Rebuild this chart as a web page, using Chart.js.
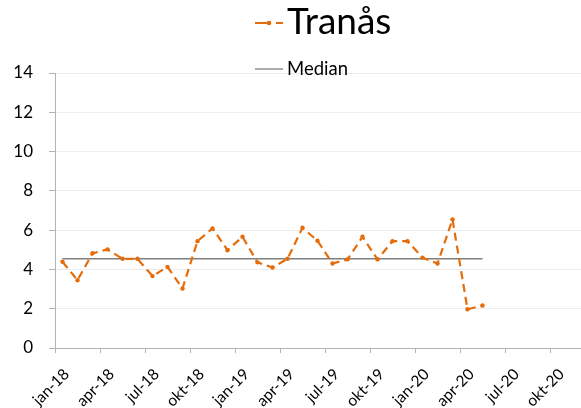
<!DOCTYPE html>
<html>
<head>
<meta charset="utf-8">
<script src="https://cdn.jsdelivr.net/npm/chart.js@4.4.1/dist/chart.umd.min.js"></script>
<style>
html, body { margin: 0; padding: 0; background: #fff; overflow: hidden; }
#wrap { width: 600px; height: 408px; }
</style>
</head>
<body>
<div id="wrap"><canvas id="tranasChart"></canvas></div>
<script>
// Chart data
const monthNames = ['jan', 'feb', 'mar', 'apr', 'maj', 'jun', 'jul', 'aug', 'sep', 'okt', 'nov', 'dec'];
const yearSuffixes = ['18', '19', '20'];
const tranasValues = [4.39, 3.45, 4.82, 5.02, 4.54, 4.54, 3.66, 4.13, 3.03, 5.44,
    6.09, 4.98, 5.66, 4.36, 4.10, 4.54, 6.12, 5.46, 4.30, 4.51,
    5.66, 4.51, 5.44, 5.44, 4.60, 4.30, 6.55, 1.97, 2.16];
const medianValue = 4.55;
const yTicks = [0, 2, 4, 6, 8, 10, 12, 14];

const mainColor = '#E46C0A';
const axisColor = '#b3b3b3';
const fontFamily = 'Lato, "Open Sans", sans-serif';

let months = [];
for (var i = 0; i < yearSuffixes.length; i++) {
    for (var j = 0; j < monthNames.length; j++) {
        months.push(monthNames[j] + '-' + yearSuffixes[i]);
    }
}

// median spans first to last measured month
const medianPoints = [
    { x: months[0], y: medianValue },
    { x: months[tranasValues.length - 1], y: medianValue }
];

// legend drawn on top, two different font sizes
const topLegend = {
    id: 'topLegend',
    afterDraw(chart) {
        const ctx = chart.ctx;
        const area = chart.chartArea;
        const x0 = (area.left + area.right) / 2 - 70;
        ctx.save();
        ctx.strokeStyle = mainColor;
        ctx.lineWidth = 2;
        ctx.setLineDash([15, 6, 7, 6]);
        ctx.beginPath();
        ctx.moveTo(x0, 23);
        ctx.lineTo(x0 + 28, 23);
        ctx.stroke();
        ctx.setLineDash([]);
        ctx.fillStyle = mainColor;
        ctx.beginPath();
        ctx.arc(x0 + 14, 23, 2.3, 0, 2 * Math.PI);
        ctx.fill();
        ctx.fillStyle = '#000';
        ctx.font = '37px ' + fontFamily;
        ctx.textBaseline = 'alphabetic';
        ctx.fillText('Tranås', x0 + 32, 34);

        ctx.strokeStyle = '#7f7f7f';
        ctx.lineWidth = 1.3;
        ctx.beginPath();
        ctx.moveTo(x0, 69);
        ctx.lineTo(x0 + 28, 69);
        ctx.stroke();
        ctx.font = '18.5px ' + fontFamily;
        ctx.fillText('Median', x0 + 32, 75);
        ctx.restore();
    }
};

const quarterTick = function (ctx) {
    return ctx.index % 3 === 0 ? axisColor : 'rgba(0,0,0,0)';
};

new Chart(document.getElementById('tranasChart'), {
    type: 'line',
    data: {
        labels: months,
        datasets: [{
            label: 'Tranås',
            data: tranasValues,
            borderColor: mainColor,
            backgroundColor: mainColor,
            borderWidth: 2.2,
            borderDash: [8, 5],
            pointRadius: 2.2,
            pointBorderWidth: 0,
            pointBackgroundColor: mainColor,
            tension: 0
        }, {
            label: 'Median',
            data: medianPoints,
            borderColor: '#7f7f7f',
            borderWidth: 1.5,
            pointRadius: 0,
            tension: 0
        }]
    },
    options: {
        responsive: true,
        maintainAspectRatio: false,
        animation: false,
        events: [],
        layout: { padding: { top: 73, right: 5, bottom: 0, left: 0 } },
        plugins: {
            legend: { display: false },
            tooltip: { enabled: false }
        },
        scales: {
            x: {
                type: 'category',
                offset: true,
                afterFit: function (scale) {
                    scale.height = 60;
                    scale.paddingLeft = 0;
                    scale.paddingRight = 0;
                },
                border: { color: axisColor },
                grid: {
                    offset: true,
                    drawOnChartArea: false,
                    tickLength: 5,
                    color: quarterTick,
                    tickColor: quarterTick
                },
                ticks: {
                    autoSkip: false,
                    minRotation: 45,
                    maxRotation: 45,
                    padding: 12,
                    labelOffset: 4,
                    color: '#000',
                    font: { family: fontFamily, size: 15.5 },
                    callback: function (value, index) {
                        return index % 3 === 0 ? this.getLabelForValue(value) : '';
                    }
                }
            },
            y: {
                min: yTicks[0],
                max: yTicks[yTicks.length - 1],
                afterFit: function (scale) { scale.width = 55; },
                afterBuildTicks: function (scale) {
                    scale.ticks = yTicks.map(v => ({ value: v }));
                },
                border: { color: axisColor },
                grid: {
                    color: '#ececec',
                    tickColor: axisColor,
                    tickLength: 6
                },
                ticks: {
                    padding: 16,
                    color: '#000',
                    font: { family: fontFamily, size: 17 }
                }
            }
        }
    },
    plugins: [topLegend]
});
</script>
</body>
</html>
